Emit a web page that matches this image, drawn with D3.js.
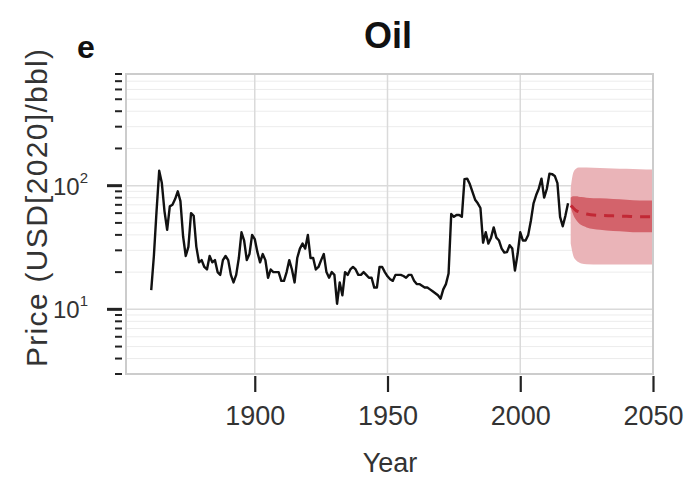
<!DOCTYPE html>
<html><head><meta charset="utf-8">
<script src="https://cdn.jsdelivr.net/npm/d3@7"></script>
<style>body{margin:0;background:#fff}svg{display:block}text{font-family:"Liberation Sans",Arial,sans-serif}</style>
</head><body><svg id="c" width="700" height="480"></svg>
<script>
// Historical oil price (USD[2020]/bbl)
const histYears = d3.range(1861, 2019);
const histPrice = [
 14.3,27,62,132,105,62,44,68,70,78,90,75,39,27,32,60,57,32,24,25,
 22,21,27,24,25,20,19,25,27,25,19,16.5,19,26,42,36,25,28,40,37,
 29,24,28,25,18,21,20,20,20,17,17,20,25,21,16.5,26,31,34,31,40,
 26,26,21,22,25,28,20,18,20,19,11.1,16.5,13,20,19,21,22,21,19,19,
 20,19,18,18,15,15,22,22,20,18.5,17.5,17,19,19,19,18.6,18,19,19,17,
 16,16,15.5,15,15,14.5,14,13.5,13,12.2,14.5,16,19.5,59,56,58,58,56,113,114,
 103,89,77,72,66,34.6,42,34,38,46,38,36,31,28.8,29,33,31,20.6,28,42,
 36,36,40,52,72,84,95,114,80,94,125,124,120,105,56,47,57,72
];
// Projection (years, median, inner band, outer band)
const projYears = [2019, 2020, 2021, 2022, 2023, 2025, 2030, 2035, 2040, 2045, 2050];
const projMedian = [69, 66, 63, 61.5, 60.5, 59, 57.5, 57, 56.5, 56, 56];
const innerLow  = [67, 58, 53, 50, 48, 46, 44, 43, 42.5, 42, 42];
const innerHigh = [80, 82, 82, 81.5, 81, 80, 79, 78, 77, 76, 76];
const outerLow  = [34, 27, 25, 24, 23.5, 23.2, 23, 23, 23, 23, 23];
const outerHigh = [95, 128, 137, 140, 140, 140, 139, 138, 137, 136, 135];

const xTicks = [1900, 1950, 2000, 2050];
const yMajor = [10, 100];

const svg = d3.select("#c");
const L = 126, R = 653, T = 74, B = 374;
const x = d3.scaleLinear().domain([1851.5, 2050]).range([L, R]);
const y = d3.scaleLog().domain([3, 800]).range([B, T]);

const minor = [];
[1, 10, 100].forEach(d => { for (let k = 1; k <= 9; k++) { const v = d * k; if (v >= 3 && v <= 800) minor.push(v); } });

svg.append("clipPath").attr("id", "clp").append("rect")
  .attr("x", L).attr("y", T).attr("width", R - L).attr("height", B - T);

// grid
const g = svg.append("g");
g.selectAll(".mn").data(minor.filter(v => !yMajor.includes(v))).join("line")
  .attr("x1", L).attr("x2", R).attr("y1", d => y(d)).attr("y2", d => y(d))
  .attr("stroke", "#ececec").attr("stroke-width", 1);
g.selectAll(".mj").data(yMajor).join("line")
  .attr("x1", L).attr("x2", R).attr("y1", d => y(d)).attr("y2", d => y(d))
  .attr("stroke", "#dadada").attr("stroke-width", 1.5);
g.selectAll(".vx").data(xTicks.slice(0, 3)).join("line")
  .attr("x1", d => x(d)).attr("x2", d => x(d)).attr("y1", T).attr("y2", B)
  .attr("stroke", "#dadada").attr("stroke-width", 1.5);

// bands
const pd = projYears.map((yr, i) => ({yr, m: projMedian[i], il: innerLow[i], ih: innerHigh[i], ol: outerLow[i], oh: outerHigh[i]}));
const area = (lo, hi) => d3.area().curve(d3.curveMonotoneX).x(d => x(d.yr)).y0(d => y(d[lo])).y1(d => y(d[hi]));
const pg = svg.append("g").attr("clip-path", "url(#clp)");
pg.append("path").datum(pd).attr("d", area("ol", "oh")).attr("fill", "#eab4b8");
pg.append("path").datum(pd).attr("d", area("il", "ih")).attr("fill", "#d3636b");

// historical line
const hd = histYears.map((yr, i) => ({yr, v: histPrice[i]}));
pg.append("path").datum(hd)
  .attr("d", d3.line().x(d => x(d.yr)).y(d => y(d.v)))
  .attr("fill", "none").attr("stroke", "#111").attr("stroke-width", 2.4).attr("stroke-linejoin", "round");

// median
pg.append("path").datum(pd)
  .attr("d", d3.line().curve(d3.curveMonotoneX).x(d => x(d.yr)).y(d => y(d.m)))
  .attr("fill", "none").attr("stroke", "#c22835").attr("stroke-width", 3).attr("stroke-dasharray", "10,8");

// border
svg.append("rect").attr("x", L).attr("y", T).attr("width", R - L).attr("height", B - T)
  .attr("fill", "none").attr("stroke", "#cccccc").attr("stroke-width", 2);

// x axis
const xa = svg.append("g").attr("transform", `translate(0,${B + 2})`)
  .call(d3.axisBottom(x).tickValues(xTicks).tickFormat(d3.format("d")).tickSize(16).tickPadding(14));
xa.select(".domain").remove();
xa.selectAll(".tick line").attr("stroke", "#222").attr("stroke-width", 2.2);
xa.selectAll(".tick text").attr("fill", "#333").style("font-size", "27px");

// y axis ticks
const ya = svg.append("g");
ya.selectAll(".ymn").data(minor.filter(v => !yMajor.includes(v))).join("line")
  .attr("x1", 115).attr("x2", 122).attr("y1", d => y(d)).attr("y2", d => y(d))
  .attr("stroke", "#222").attr("stroke-width", 2);
ya.selectAll(".ymj").data(yMajor).join("line")
  .attr("x1", 107).attr("x2", 122).attr("y1", d => y(d)).attr("y2", d => y(d))
  .attr("stroke", "#222").attr("stroke-width", 3);
const yl = ya.selectAll(".yl").data(yMajor).join("text")
  .attr("x", 88).attr("y", d => y(d) + 9).attr("text-anchor", "end")
  .attr("fill", "#333").style("font-size", "24px");
yl.append("tspan").text("10");
yl.append("tspan").attr("dy", -12).style("font-size", "15px").text(d => Math.round(Math.log10(d)));

// labels
svg.append("text").attr("x", 390).attr("y", 472).attr("text-anchor", "middle")
  .attr("fill", "#333").style("font-size", "27px").text("Year");
svg.append("text").attr("transform", `translate(47,${(T + B) / 2 - 16}) rotate(-90)`).attr("text-anchor", "middle")
  .attr("fill", "#333").style("font-size", "30px")
  .attr("textLength", 318).attr("lengthAdjust", "spacing").text("Price (USD[2020]/bbl)");
svg.append("text").attr("x", 388).attr("y", 48).attr("text-anchor", "middle")
  .attr("fill", "#111").style("font-size", "36px").style("font-weight", "bold").text("Oil");
svg.append("text").attr("x", 77).attr("y", 58).attr("text-anchor", "start")
  .attr("fill", "#111").style("font-size", "32px").style("font-weight", "bold").text("e");
</script></body></html>
